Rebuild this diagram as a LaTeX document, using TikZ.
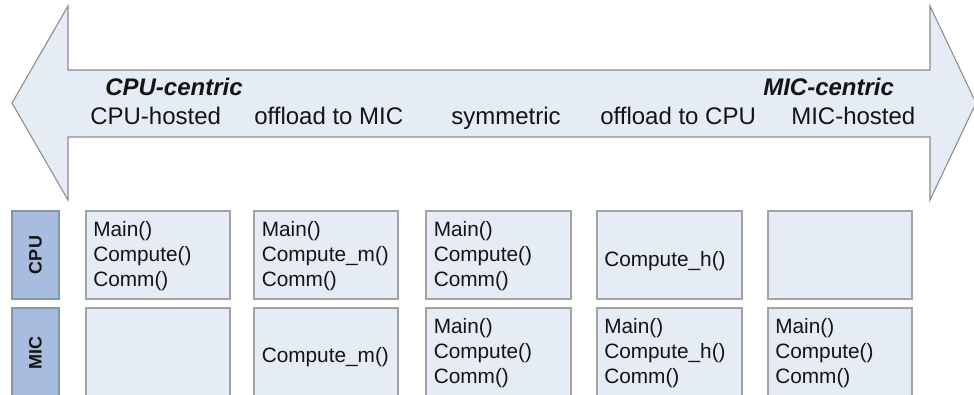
\documentclass[tikz,border=0pt]{standalone}
\usepackage{fontspec}
\setmainfont{Liberation Sans}
\definecolor{panelfill}{HTML}{E6ECF6}
\definecolor{panelline}{HTML}{A3A3A3}
\definecolor{arrowline}{HTML}{8C8C8C}
\definecolor{tagfill}{HTML}{A7BCDF}
\definecolor{tagline}{HTML}{8494AE}
\definecolor{ink}{HTML}{141414}
\tikzset{
  px/.style={x=0.75pt,y=-0.75pt},
  panel/.style={draw=panelline,fill=panelfill,line width=0.9pt},
  tag/.style={draw=tagline,fill=tagfill,line width=0.9pt},
  modelabel/.style={anchor=base west,inner sep=0pt,text=ink,font=\fontsize{18}{21}\selectfont},
  sidelabel/.style={anchor=base west,inner sep=0pt,text=ink,font=\fontsize{18}{21}\selectfont\bfseries\itshape},
  tagtext/.style={rotate=90,inner sep=0pt,text=ink,font=\fontsize{13.5}{16}\selectfont\bfseries},
  fnlist/.style={anchor=base west,inner sep=0pt,text=ink,font=\fontsize{15.6}{18.75}\selectfont},
}
\newcommand{\fnstack}[1]{\begin{tabular}[t]{@{}l@{}}#1\end{tabular}}
\begin{document}
\begin{tikzpicture}[px]
\useasboundingbox (0,0) rectangle (974,395);

% double-headed arrow spanning the execution modes
\draw[draw=arrowline,fill=panelfill,line width=0.8pt,line join=miter]
  (12,103) -- (68,6) -- (68,70) -- (930,70) -- (930,6) -- (976,103)
  -- (930,200) -- (930,137) -- (68,137) -- (68,200) -- cycle;

\node[sidelabel] (cpucentric) at (105,96) {CPU-centric};
\node[sidelabel] (miccentric) at (763,96) {MIC-centric};
\node[modelabel] (m1) at (90,125) {CPU-hosted};
\node[modelabel] (m2) at (254,125) {offload to MIC};
\node[modelabel] (m3) at (451,125) {symmetric};
\node[modelabel] (m4) at (600,125) {offload to CPU};
\node[modelabel] (m5) at (791,125) {MIC-hosted};

% row tags
\draw[tag] (12,211) rectangle (59,299);
\node[tagtext] (cputag) at (35.5,255) {CPU};
\draw[tag] (12,308) rectangle (59,398);
\node[tagtext] (mictag) at (35.5,353) {MIC};

% CPU row
\draw[panel] (86,211) rectangle (230,299);
\draw[panel] (254,211) rectangle (398,299);
\draw[panel] (426,211) rectangle (571,299);
\draw[panel] (597,211) rectangle (742,299);
\draw[panel] (768,211) rectangle (912,299);

% MIC row
\draw[panel] (86,308) rectangle (230,398);
\draw[panel] (254,308) rectangle (398,398);
\draw[panel] (426,308) rectangle (571,398);
\draw[panel] (597,308) rectangle (742,398);
\draw[panel] (768,308) rectangle (912,398);

% functions running on each side
\node[fnlist] (c1) at (93,237) {\fnstack{Main()\\Compute()\\Comm()}};
\node[fnlist] (c2) at (261.5,237) {\fnstack{Main()\\Compute\_m()\\Comm()}};
\node[fnlist] (c3) at (433.5,237) {\fnstack{Main()\\Compute()\\Comm()}};
\node[fnlist] (c4) at (604,267) {Compute\_h()};

\node[fnlist] (d2) at (261.5,362) {Compute\_m()};
\node[fnlist] (d3) at (433.5,333) {\fnstack{Main()\\Compute()\\Comm()}};
\node[fnlist] (d4) at (604,333) {\fnstack{Main()\\Compute\_h()\\Comm()}};
\node[fnlist] (d5) at (775,333) {\fnstack{Main()\\Compute()\\Comm()}};
\end{tikzpicture}
\end{document}
